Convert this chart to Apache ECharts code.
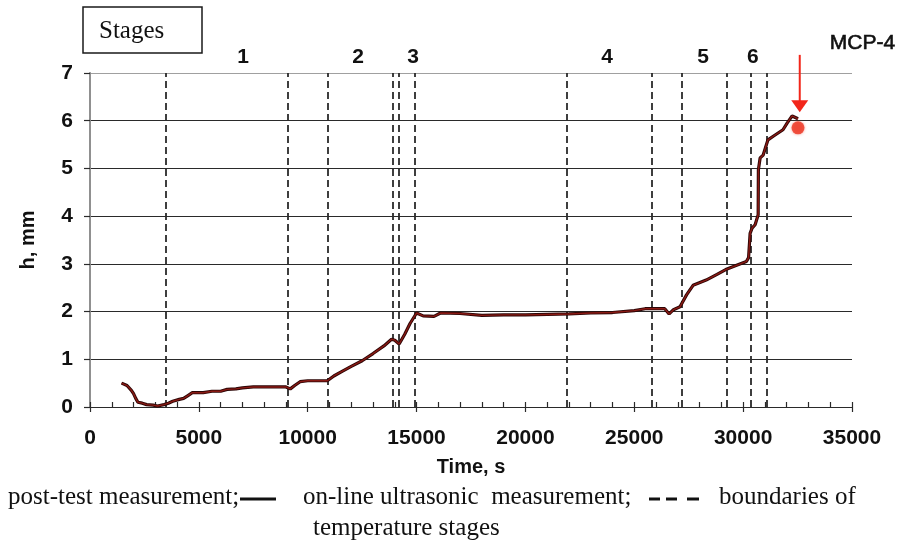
<!DOCTYPE html>
<html>
<head>
<meta charset="utf-8">
<script src="https://cdn.jsdelivr.net/npm/echarts@6/dist/echarts.min.js"></script>
<style>
  html, body { margin: 0; padding: 0; background: #ffffff; }
  #chart { width: 899px; height: 547px; }
</style>
</head>
<body>
<div id="chart"></div>
<script>
// Axis ticks
const timeTicks = [0, 5000, 10000, 15000, 20000, 25000, 30000, 35000];
const heightTicks = [0, 1, 2, 3, 4, 5, 6, 7];

// On-line ultrasonic measurement: time (s) and thickness h (mm)
const sampleTime = [
  1450, 1700, 1900, 2000, 2100, 2200, 2400, 2600, 2900, 3100,
  3400, 3600, 3800, 4100, 4300, 4500, 4700, 5200, 5600, 6000,
  6300, 6700, 7000, 7500, 8000, 8600, 9000, 9200, 9400, 9650,
  10000, 10900, 11200, 11600, 12000, 12500, 13000, 13500, 13850, 14000,
  14200, 14450, 14700, 15000, 15300, 15800, 16100, 17000, 18000, 19000,
  20000, 21000, 22000, 23000, 24000, 25000, 25500, 26400, 26600, 26800,
  27100, 27400, 27700, 28300, 28800, 29200, 29700, 30150, 30250, 30320,
  30410, 30550, 30690, 30700, 30780, 30920, 31140, 31400, 31830, 32020,
  32250, 32520
];
const thickness = [
  0.50, 0.45, 0.35, 0.28, 0.18, 0.10, 0.08, 0.05, 0.04, 0.02,
  0.05, 0.08, 0.12, 0.16, 0.18, 0.24, 0.30, 0.30, 0.33, 0.33,
  0.37, 0.38, 0.40, 0.42, 0.42, 0.42, 0.42, 0.38, 0.45, 0.53,
  0.55, 0.55, 0.65, 0.75, 0.85, 0.97, 1.12, 1.28, 1.42, 1.40,
  1.32, 1.52, 1.75, 1.97, 1.91, 1.90, 1.97, 1.96, 1.92, 1.93,
  1.93, 1.94, 1.95, 1.97, 1.98, 2.02, 2.06, 2.06, 1.95, 2.04,
  2.10, 2.35, 2.55, 2.66, 2.78, 2.88, 2.97, 3.05, 3.13, 3.64,
  3.75, 3.82, 4.03, 4.97, 5.22, 5.28, 5.60, 5.68, 5.81, 5.95,
  6.10, 6.04
];

// Post-test measurement (MCP-4)
const postTestTime = [32520];
const postTestThickness = [5.85];

// Boundaries of temperature stages (s)
const boundaryTimes = [3500, 9100, 10900, 13900, 14200, 14900, 21900, 25800, 27200, 29250, 30350, 31100];

// Stage numbers and where they sit along the time axis
const stageNames = ['1', '2', '3', '4', '5', '6'];
const stageTimes = [7030, 12310, 14840, 23750, 28160, 30450];
const stageLabelHeight = 7.34;

// Arrow pointing at the post-test point
const arrowTime = 32600;
const arrowTop = 7.38;
const arrowTip = 6.18;
const arrowLabel = 'MCP-4';

const sansFamily = '"Liberation Sans", Arial, sans-serif';
const sansBold = 'bold 21px ' + sansFamily;
const serif = '"Liberation Serif", "Times New Roman", serif';

const chart = echarts.init(document.getElementById('chart'), null, { renderer: 'canvas' });

const tMin = timeTicks[0];
const tMax = timeTicks[timeTicks.length - 1];
const tStep = timeTicks[1] - timeTicks[0];
const hMin = heightTicks[0];
const hMax = heightTicks[heightTicks.length - 1];
const hStep = heightTicks[1] - heightTicks[0];

const splitColors = heightTicks.map((v, i) => (i === heightTicks.length - 1 ? '#a0a0a0' : '#2a2a2a'));

chart.setOption({
  animation: false,
  backgroundColor: '#ffffff',
  grid: { left: 90, right: 47, top: 73, bottom: 140, containLabel: false },
  xAxis: [
    {
      type: 'value', position: 'bottom',
      min: tMin, max: tMax, interval: tStep,
      name: 'Time, s', nameLocation: 'middle', nameGap: 50,
      nameTextStyle: { color: '#111', fontSize: 20, fontWeight: 'bold', fontFamily: sansFamily },
      axisLine: { show: true, lineStyle: { color: '#2a2a2a', width: 1.2 } },
      axisTick: { show: true, inside: false, length: 5, lineStyle: { color: '#2a2a2a', width: 1.2 } },
      axisLabel: {
        color: '#111', fontSize: 21, fontWeight: 'bold', fontFamily: sansFamily, margin: 21,
        formatter: v => String(v)
      },
      splitLine: { show: false }
    },
    {
      type: 'value', position: 'bottom',
      min: tMin, max: tMax, interval: 1000,
      axisLine: { show: true, lineStyle: { color: '#2a2a2a', width: 1.2 } },
      axisTick: { show: true, inside: true, length: 5, lineStyle: { color: '#2a2a2a', width: 1.2 } },
      axisLabel: { show: false },
      splitLine: { show: false }
    }
  ],
  yAxis: [
    {
      type: 'value', position: 'left',
      min: hMin, max: hMax, interval: hStep,
      name: 'h, mm', nameLocation: 'middle', nameGap: 52, nameRotate: 90,
      nameTextStyle: { color: '#111', fontSize: 20, fontWeight: 'bold', fontFamily: sansFamily },
      axisLine: { show: true, lineStyle: { color: '#2a2a2a', width: 1.5 } },
      axisTick: { show: true, inside: false, length: 6, lineStyle: { color: '#2a2a2a', width: 1.2 } },
      axisLabel: { color: '#111', fontSize: 21, fontWeight: 'bold', fontFamily: sansFamily, margin: 17 },
      splitLine: { show: true, lineStyle: { color: splitColors, width: 1.2 } }
    },
    {
      type: 'value', position: 'right',
      min: hMin, max: hMax, interval: hStep,
      axisLine: { show: true, lineStyle: { color: '#a0a0a0', width: 1.5 } },
      axisTick: { show: false },
      axisLabel: { show: false },
      splitLine: { show: false }
    }
  ],
  series: [
    {
      name: 'on-line ultrasonic measurement',
      type: 'line',
      xAxisIndex: 0, yAxisIndex: 0,
      data: sampleTime.map((t, i) => [t, thickness[i]]),
      showSymbol: false,
      lineStyle: { color: '#2b0505', width: 3.2 },
      z: 5,
      markLine: {
        silent: true,
        symbol: ['none', 'none'],
        label: { show: false },
        lineStyle: { color: '#2a2a2a', width: 1.8, type: [7, 4] },
        data: boundaryTimes.map(t => ({ xAxis: t }))
      }
    },
    {
      name: 'on-line ultrasonic measurement core',
      type: 'line',
      xAxisIndex: 0, yAxisIndex: 0,
      data: sampleTime.map((t, i) => [t, thickness[i]]),
      showSymbol: false,
      lineStyle: { color: '#8a1a14', width: 1.4 },
      z: 6
    },
    {
      name: 'post-test measurement',
      type: 'scatter',
      xAxisIndex: 0, yAxisIndex: 0,
      data: postTestTime.map((t, i) => [t, postTestThickness[i]]),
      symbol: 'circle',
      symbolSize: 13,
      itemStyle: { color: '#ec3320', shadowBlur: 3, shadowColor: 'rgba(240,60,40,0.6)' },
      z: 7
    }
  ]
});

// Annotations placed through the axes' own scales
const px = (t, h) => chart.convertToPixel({ xAxisIndex: 0, yAxisIndex: 0 }, [t, h]);

const graphics = [];

// "Stages" box
graphics.push({
  type: 'rect', shape: { x: 83, y: 7, width: 119, height: 46 },
  style: { fill: '#ffffff', stroke: '#1a1a1a', lineWidth: 1.5 }, z: 10
});
graphics.push({
  type: 'text', x: 99, y: 31, z: 11,
  style: { text: 'Stages', font: '25px ' + serif, fill: '#111', align: 'left', verticalAlign: 'middle' }
});

// Stage numbers
stageNames.forEach((name, i) => {
  const p = px(stageTimes[i], stageLabelHeight);
  graphics.push({
    type: 'text', x: p[0], y: p[1], z: 11,
    style: { text: name, font: sansBold, fill: '#111', align: 'center', verticalAlign: 'middle' }
  });
});

// Red arrow and its label
const aTop = px(arrowTime, arrowTop);
const aTip = px(arrowTime, arrowTip);
const headLen = 12;
graphics.push({
  type: 'line', z: 12,
  shape: { x1: aTop[0], y1: aTop[1], x2: aTip[0], y2: aTip[1] - headLen + 1 },
  style: { stroke: '#f2261a', lineWidth: 2 }
});
graphics.push({
  type: 'polygon', z: 12,
  shape: { points: [[aTip[0] - 8.5, aTip[1] - headLen], [aTip[0] + 8.5, aTip[1] - headLen], [aTip[0], aTip[1]]] },
  style: { fill: '#f2261a' }
});
graphics.push({
  type: 'text', x: aTop[0] + 30, y: aTop[1] - 12, z: 12,
  style: { text: arrowLabel, font: '21px ' + sansFamily, fill: '#111', align: 'left', verticalAlign: 'middle', stroke: '#111', lineWidth: 0.6 }
});

// Key under the chart
const keyFont = '25px ' + serif;
graphics.push({
  type: 'text', x: 8, y: 497, z: 11,
  style: { text: 'post-test measurement;', font: keyFont, fill: '#111', align: 'left', verticalAlign: 'middle' }
});
graphics.push({
  type: 'line', z: 11, shape: { x1: 240, y1: 499, x2: 276, y2: 499 },
  style: { stroke: '#111', lineWidth: 3 }
});
graphics.push({
  type: 'text', x: 303, y: 497, z: 11,
  style: { text: 'on-line ultrasonic  measurement;', font: keyFont, fill: '#111', align: 'left', verticalAlign: 'middle' }
});
[[649, 660], [666, 677], [687, 699]].forEach(seg => {
  graphics.push({
    type: 'line', z: 11, shape: { x1: seg[0], y1: 499, x2: seg[1], y2: 499 },
    style: { stroke: '#111', lineWidth: 3 }
  });
});
graphics.push({
  type: 'text', x: 719, y: 497, z: 11,
  style: { text: 'boundaries of', font: keyFont, fill: '#111', align: 'left', verticalAlign: 'middle' }
});
graphics.push({
  type: 'text', x: 313, y: 528, z: 11,
  style: { text: 'temperature stages', font: keyFont, fill: '#111', align: 'left', verticalAlign: 'middle' }
});

chart.setOption({ graphic: graphics });
</script>
</body>
</html>
